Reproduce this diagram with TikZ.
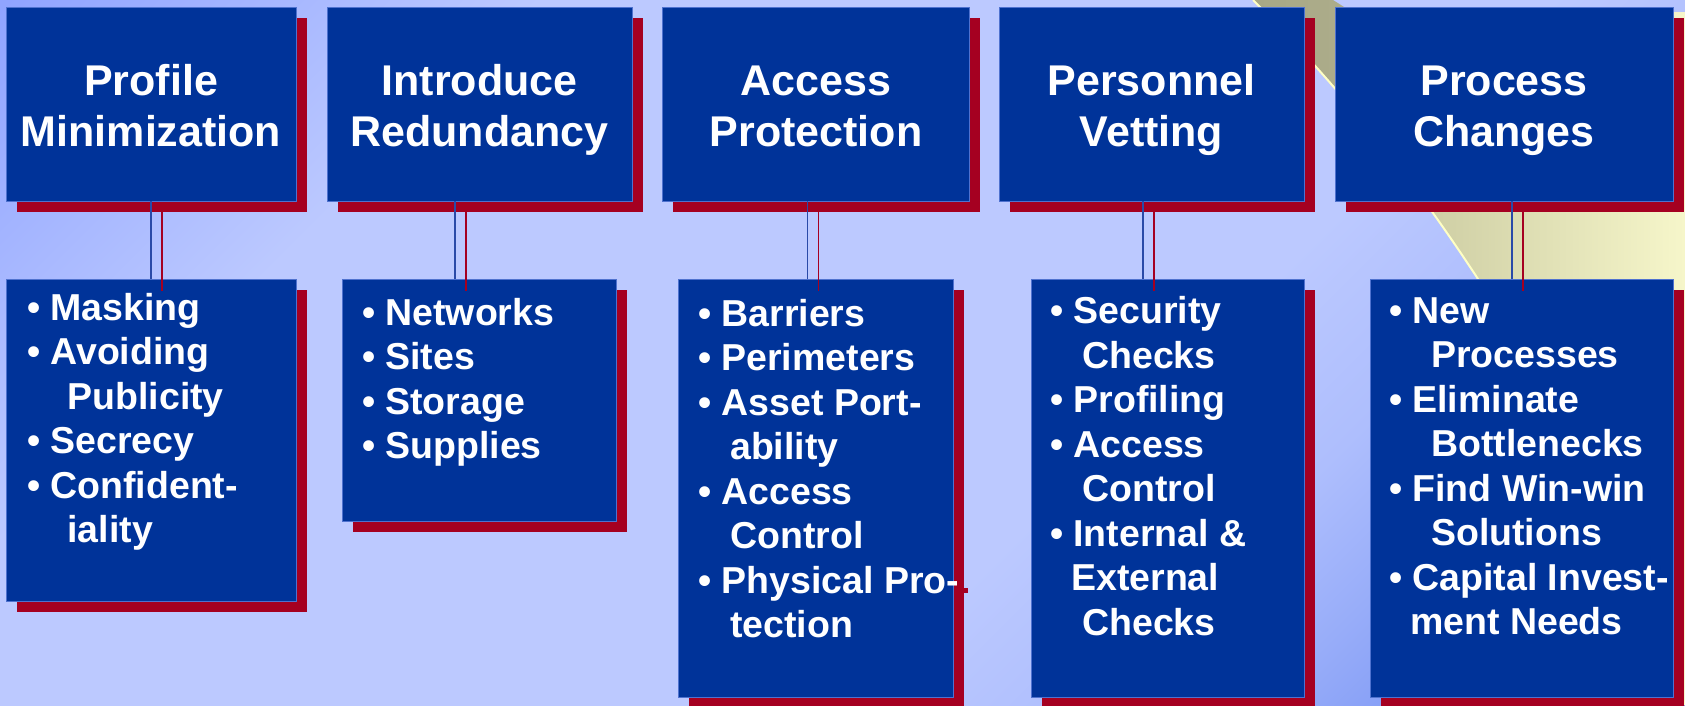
\documentclass[tikz,border=0pt]{standalone}
\usepackage{fontspec}
\setmainfont{Liberation Sans}[Ligatures=CommonOff]
\usetikzlibrary{shadows}
\definecolor{boxblue}{HTML}{003399}
\definecolor{shred}{HTML}{A50021}
\definecolor{edgeblue}{HTML}{4F72CF}
\definecolor{connblue}{HTML}{2A4AA8}
\definecolor{bgA}{HTML}{90A4FF}
\definecolor{bgB}{HTML}{BCC9FF}
\definecolor{bgC}{HTML}{AEBEFD}
\definecolor{bgD}{HTML}{98ADF9}
\definecolor{bgE}{HTML}{809AF5}
\definecolor{bgF}{HTML}{7088F2}
\definecolor{swA}{HTML}{A8A886}
\definecolor{swB}{HTML}{ACAC8A}
\definecolor{swC}{HTML}{D0D0A6}
\definecolor{swD}{HTML}{F6F6CA}
\definecolor{swEdge}{HTML}{FFFFC4}
\pgfdeclarehorizontalshading{bgshade}{100bp}{color(0bp)=(bgA); color(14.64bp)=(bgA); color(30.55bp)=(bgB); color(60.6bp)=(bgB); color(67.7bp)=(bgC); color(73bp)=(bgD); color(78.3bp)=(bgE); color(85.4bp)=(bgF); color(100bp)=(bgF)}
\pgfdeclarehorizontalshading{swoosh}{100bp}{color(0bp)=(swA); color(25bp)=(swA); color(35bp)=(swB); color(46.6bp)=(swC); color(75bp)=(swD); color(100bp)=(swD)}
\newcommand\bul{\makebox[23.3pt][l]{•}}
\newcommand\ind[1]{\hspace*{#1pt}}
\newcommand\blines[1]{\vtop{\baselineskip=44.5pt #1}}
\newcommand\ttwo[2]{\vtop{\baselineskip=51pt\hbox to 0pt{\hss#1\hss}\hbox to 0pt{\hss#2\hss}}}
\begin{document}
\begin{tikzpicture}[x=1pt,y=-1pt,
  boxst/.style={draw=edgeblue, line width=1pt, fill=boxblue, inner sep=0pt, outer sep=0pt, anchor=north west,
    drop shadow={shadow xshift=11pt, shadow yshift=-11pt, fill=shred, draw=none, opacity=1}},
  ttl/.style={anchor=base, inner sep=0pt, text=white, font=\fontsize{43}{51}\selectfont\bfseries},
  btxt/.style={anchor=base west, inner sep=0pt, text=white, font=\fontsize{37.5}{44.5}\selectfont\bfseries},
  conb/.style={draw=connblue, line width=1.5pt},
  conr/.style={draw=shred, line width=1.5pt}]
\useasboundingbox (0,0) rectangle (1685,705);
% background
\path[shading=bgshade, shading angle=-45] (0,0) rectangle (1685,705);
% yellow swoosh
\path[shading=swoosh] (1253,0) .. controls (1340,88) and (1410,175) .. (1478,279)
  .. controls (1540,380) and (1620,540) .. (1685,705) -- (1685,12) -- (1352,12) -- (1333,0) -- cycle;
\draw[swEdge, line width=2pt] (1253,0) .. controls (1340,88) and (1410,175) .. (1478,279)
  .. controls (1540,380) and (1620,540) .. (1685,705);
% shadow of the hyphen that runs past the third list box
\fill[shred] (962,587.5) rectangle (968,592.5);
% top boxes
\node[boxst, minimum width=290pt, minimum height=194pt] (t1) at (6,7) {};
\node[boxst, minimum width=305pt, minimum height=194pt] (t2) at (327,7) {};
\node[boxst, minimum width=307pt, minimum height=194pt] (t3) at (662,7) {};
\node[boxst, minimum width=305pt, minimum height=194pt] (t4) at (999,7) {};
\node[boxst, minimum width=338pt, minimum height=194pt] (t5) at (1335,7) {};
% bottom boxes
\node[boxst, minimum width=290pt, minimum height=322pt] (b1) at (6,279) {};
\node[boxst, minimum width=274pt, minimum height=242pt] (b2) at (342,279) {};
\node[boxst, minimum width=275pt, minimum height=418pt] (b3) at (678,279) {};
\node[boxst, minimum width=273pt, minimum height=418pt] (b4) at (1031,279) {};
\node[boxst, minimum width=303pt, minimum height=418pt] (b5) at (1370,279) {};
% connector positions
\coordinate (k1) at (151,0);
\coordinate (k2) at (455,0);
\coordinate (k3) at (807.5,0);
\coordinate (k4) at (1143,0);
\coordinate (k5) at (1512,0);
\coordinate (r1) at (162,0);
\coordinate (r2) at (466,0);
\coordinate (r3) at (818.5,0);
\coordinate (r4) at (1154,0);
\coordinate (r5) at (1523,0);
\foreach \i in {1,...,5}{
  \draw[conr] ([yshift=-11pt]t\i.south -| r\i) -- ([yshift=-12pt]b\i.north -| r\i);
  \draw[conb] (t\i.south -| k\i) -- (b\i.north -| k\i);
}
% titles
\node[ttl] (h1) at (151,95) {\ttwo{Profile}{Minimization}};
\node[ttl] (h2) at (479.5,95) {\ttwo{Introduce}{Redundancy}};
\node[ttl] (h3) at (816,95) {\ttwo{Access}{Protection}};
\node[ttl] (h4) at (1151.5,95) {\ttwo{Personnel}{Vetting}};
\node[ttl] (h5) at (1504,95) {\ttwo{Process}{Changes}};
% lists
\node[btxt] (x1) at (27,320) {\blines{\hbox{\bul Masking}\hbox{\bul Avoiding}\hbox{\ind{40.3}Publicity}\hbox{\bul Secrecy}\hbox{\bul Confident-}\hbox{\ind{40.3}iality}}};
\node[btxt] (x2) at (362,325) {\blines{\hbox{\bul Networks}\hbox{\bul Sites}\hbox{\bul Storage}\hbox{\bul Supplies}}};
\node[btxt] (x3) at (698,326) {\blines{\hbox{\bul Barriers}\hbox{\bul Perimeters}\hbox{\bul Asset Port-}\hbox{\ind{32}ability}\hbox{\bul Access}\hbox{\ind{32}Control}\hbox{\bul Physical Pro-}\hbox{\ind{32}tection}}};
\node[btxt] (x4) at (1050,323.5) {\blines{\hbox{\bul Security}\hbox{\ind{32}Checks}\hbox{\bul Profiling}\hbox{\bul Access}\hbox{\ind{32}Control}\hbox{\bul Internal \&}\hbox{\ind{21}External}\hbox{\ind{32}Checks}}};
\node[btxt] (x5) at (1389,323) {\blines{\hbox{\bul New}\hbox{\ind{42}Processes}\hbox{\bul Eliminate}\hbox{\ind{42}Bottlenecks}\hbox{\bul Find Win-win}\hbox{\ind{42}Solutions}\hbox{\bul Capital Invest-}\hbox{\ind{21}ment Needs}}};
\end{tikzpicture}
\end{document}
